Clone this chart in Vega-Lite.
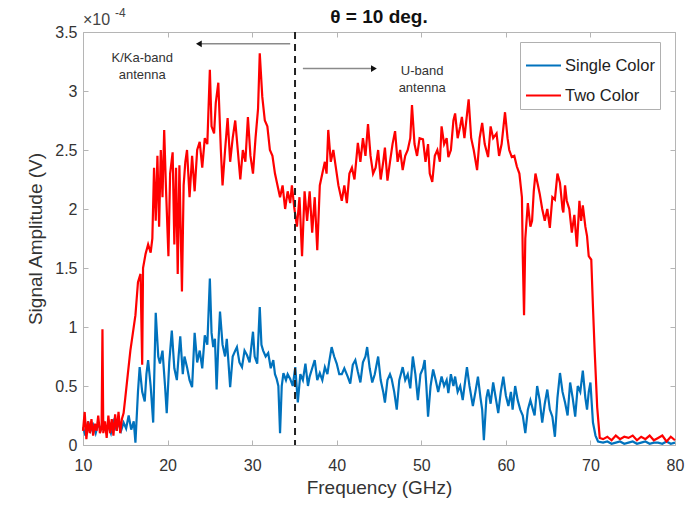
{
  "$schema": "https://vega.github.io/schema/vega-lite/v6.json",
  "width": 592,
  "height": 413,
  "autosize": {"type": "none"},
  "padding": {"left": 83, "top": 32, "right": 20, "bottom": 60},
  "background": "white",
  "title": {"text": "θ = 10 deg.", "fontSize": 19, "fontWeight": "bold", "font": "Liberation Sans", "color": "#111", "offset": -20},
  "config": {"view": {"stroke": null}, "font": "Liberation Sans"},
  "datasets": {
    "spectra": [
      {"series":"Single Color","freq":10.0,"amp":0.15},{"series":"Single Color","freq":10.3,"amp":0.08},{"series":"Single Color","freq":10.6,"amp":0.2},{"series":"Single Color","freq":10.9,"amp":0.12},{"series":"Single Color","freq":11.2,"amp":0.17},{"series":"Single Color","freq":11.5,"amp":0.1},{"series":"Single Color","freq":11.8,"amp":0.18},{"series":"Single Color","freq":12.1,"amp":0.13},{"series":"Single Color","freq":12.4,"amp":0.2},{"series":"Single Color","freq":12.7,"amp":0.12},{"series":"Single Color","freq":13.0,"amp":0.16},{"series":"Single Color","freq":13.3,"amp":0.1},{"series":"Single Color","freq":13.6,"amp":0.2},{"series":"Single Color","freq":13.9,"amp":0.14},{"series":"Single Color","freq":14.2,"amp":0.18},{"series":"Single Color","freq":14.5,"amp":0.12},{"series":"Single Color","freq":14.8,"amp":0.19},{"series":"Single Color","freq":15.1,"amp":0.14},{"series":"Single Color","freq":15.4,"amp":0.25},{"series":"Single Color","freq":15.7,"amp":0.13},{"series":"Single Color","freq":16.0,"amp":0.2},{"series":"Single Color","freq":16.2,"amp":0.02},{"series":"Single Color","freq":16.5,"amp":0.45},{"series":"Single Color","freq":16.7,"amp":0.66},{"series":"Single Color","freq":17.0,"amp":0.45},{"series":"Single Color","freq":17.3,"amp":0.37},{"series":"Single Color","freq":17.5,"amp":0.6},{"series":"Single Color","freq":17.7,"amp":0.72},{"series":"Single Color","freq":18.0,"amp":0.5},{"series":"Single Color","freq":18.3,"amp":0.19},{"series":"Single Color","freq":18.6,"amp":1.12},{"series":"Single Color","freq":18.9,"amp":0.75},{"series":"Single Color","freq":19.1,"amp":0.69},{"series":"Single Color","freq":19.4,"amp":0.8},{"series":"Single Color","freq":19.7,"amp":0.5},{"series":"Single Color","freq":19.9,"amp":0.27},{"series":"Single Color","freq":20.2,"amp":0.7},{"series":"Single Color","freq":20.5,"amp":0.97},{"series":"Single Color","freq":20.8,"amp":0.65},{"series":"Single Color","freq":21.1,"amp":0.55},{"series":"Single Color","freq":21.3,"amp":0.75},{"series":"Single Color","freq":21.5,"amp":0.92},{"series":"Single Color","freq":21.8,"amp":0.6},{"series":"Single Color","freq":22.0,"amp":0.75},{"series":"Single Color","freq":22.3,"amp":0.66},{"series":"Single Color","freq":22.6,"amp":0.55},{"series":"Single Color","freq":22.9,"amp":0.49},{"series":"Single Color","freq":23.2,"amp":0.95},{"series":"Single Color","freq":23.5,"amp":0.7},{"series":"Single Color","freq":23.8,"amp":0.8},{"series":"Single Color","freq":24.1,"amp":0.65},{"series":"Single Color","freq":24.4,"amp":0.93},{"series":"Single Color","freq":24.7,"amp":0.85},{"series":"Single Color","freq":25.0,"amp":1.41},{"series":"Single Color","freq":25.2,"amp":0.95},{"series":"Single Color","freq":25.4,"amp":0.83},{"series":"Single Color","freq":25.6,"amp":0.9},{"series":"Single Color","freq":25.8,"amp":0.47},{"series":"Single Color","freq":26.0,"amp":0.85},{"series":"Single Color","freq":26.2,"amp":1.13},{"series":"Single Color","freq":26.5,"amp":0.85},{"series":"Single Color","freq":26.8,"amp":0.75},{"series":"Single Color","freq":27.0,"amp":0.9},{"series":"Single Color","freq":27.2,"amp":0.7},{"series":"Single Color","freq":27.4,"amp":0.49},{"series":"Single Color","freq":27.7,"amp":0.75},{"series":"Single Color","freq":28.0,"amp":0.8},{"series":"Single Color","freq":28.2,"amp":0.83},{"series":"Single Color","freq":28.5,"amp":0.7},{"series":"Single Color","freq":28.8,"amp":0.66},{"series":"Single Color","freq":29.1,"amp":0.8},{"series":"Single Color","freq":29.4,"amp":0.76},{"series":"Single Color","freq":29.7,"amp":0.7},{"series":"Single Color","freq":30.1,"amp":0.96},{"series":"Single Color","freq":30.3,"amp":0.75},{"series":"Single Color","freq":30.6,"amp":0.69},{"series":"Single Color","freq":30.9,"amp":1.17},{"series":"Single Color","freq":31.1,"amp":0.85},{"series":"Single Color","freq":31.3,"amp":0.8},{"series":"Single Color","freq":31.6,"amp":0.75},{"series":"Single Color","freq":31.9,"amp":0.78},{"series":"Single Color","freq":32.2,"amp":0.65},{"series":"Single Color","freq":32.5,"amp":0.72},{"series":"Single Color","freq":32.7,"amp":0.6},{"series":"Single Color","freq":32.9,"amp":0.56},{"series":"Single Color","freq":33.1,"amp":0.5},{"series":"Single Color","freq":33.3,"amp":0.1},{"series":"Single Color","freq":33.5,"amp":0.5},{"series":"Single Color","freq":33.7,"amp":0.61},{"series":"Single Color","freq":34.0,"amp":0.55},{"series":"Single Color","freq":34.2,"amp":0.6},{"series":"Single Color","freq":34.5,"amp":0.56},{"series":"Single Color","freq":34.8,"amp":0.5},{"series":"Single Color","freq":35.1,"amp":0.66},{"series":"Single Color","freq":35.4,"amp":0.36},{"series":"Single Color","freq":35.7,"amp":0.6},{"series":"Single Color","freq":36.0,"amp":0.55},{"series":"Single Color","freq":36.3,"amp":0.69},{"series":"Single Color","freq":36.6,"amp":0.5},{"series":"Single Color","freq":36.8,"amp":0.58},{"series":"Single Color","freq":37.1,"amp":0.65},{"series":"Single Color","freq":37.4,"amp":0.72},{"series":"Single Color","freq":37.7,"amp":0.55},{"series":"Single Color","freq":38.0,"amp":0.61},{"series":"Single Color","freq":38.3,"amp":0.55},{"series":"Single Color","freq":38.6,"amp":0.66},{"series":"Single Color","freq":38.9,"amp":0.6},{"series":"Single Color","freq":39.1,"amp":0.7},{"series":"Single Color","freq":39.4,"amp":0.83},{"series":"Single Color","freq":39.7,"amp":0.75},{"series":"Single Color","freq":40.0,"amp":0.69},{"series":"Single Color","freq":40.3,"amp":0.6},{"series":"Single Color","freq":40.6,"amp":0.6},{"series":"Single Color","freq":40.9,"amp":0.65},{"series":"Single Color","freq":41.3,"amp":0.58},{"series":"Single Color","freq":41.6,"amp":0.52},{"series":"Single Color","freq":41.9,"amp":0.68},{"series":"Single Color","freq":42.2,"amp":0.72},{"series":"Single Color","freq":42.5,"amp":0.62},{"series":"Single Color","freq":42.8,"amp":0.53},{"series":"Single Color","freq":43.1,"amp":0.7},{"series":"Single Color","freq":43.4,"amp":0.75},{"series":"Single Color","freq":43.6,"amp":0.83},{"series":"Single Color","freq":43.9,"amp":0.65},{"series":"Single Color","freq":44.2,"amp":0.53},{"series":"Single Color","freq":44.5,"amp":0.6},{"series":"Single Color","freq":44.9,"amp":0.75},{"series":"Single Color","freq":45.2,"amp":0.55},{"series":"Single Color","freq":45.5,"amp":0.45},{"series":"Single Color","freq":45.7,"amp":0.36},{"series":"Single Color","freq":46.0,"amp":0.55},{"series":"Single Color","freq":46.3,"amp":0.6},{"series":"Single Color","freq":46.5,"amp":0.56},{"series":"Single Color","freq":46.8,"amp":0.45},{"series":"Single Color","freq":47.1,"amp":0.3},{"series":"Single Color","freq":47.4,"amp":0.55},{"series":"Single Color","freq":47.8,"amp":0.66},{"series":"Single Color","freq":48.1,"amp":0.55},{"series":"Single Color","freq":48.4,"amp":0.6},{"series":"Single Color","freq":48.7,"amp":0.48},{"series":"Single Color","freq":49.0,"amp":0.75},{"series":"Single Color","freq":49.3,"amp":0.6},{"series":"Single Color","freq":49.6,"amp":0.38},{"series":"Single Color","freq":49.9,"amp":0.6},{"series":"Single Color","freq":50.2,"amp":0.65},{"series":"Single Color","freq":50.4,"amp":0.72},{"series":"Single Color","freq":50.6,"amp":0.5},{"series":"Single Color","freq":50.8,"amp":0.24},{"series":"Single Color","freq":51.1,"amp":0.5},{"series":"Single Color","freq":51.4,"amp":0.64},{"series":"Single Color","freq":51.7,"amp":0.55},{"series":"Single Color","freq":52.0,"amp":0.45},{"series":"Single Color","freq":52.4,"amp":0.58},{"series":"Single Color","freq":52.7,"amp":0.5},{"series":"Single Color","freq":53.0,"amp":0.55},{"series":"Single Color","freq":53.2,"amp":0.44},{"series":"Single Color","freq":53.5,"amp":0.6},{"series":"Single Color","freq":53.8,"amp":0.5},{"series":"Single Color","freq":54.0,"amp":0.58},{"series":"Single Color","freq":54.3,"amp":0.45},{"series":"Single Color","freq":54.6,"amp":0.5},{"series":"Single Color","freq":54.9,"amp":0.38},{"series":"Single Color","freq":55.2,"amp":0.55},{"series":"Single Color","freq":55.4,"amp":0.66},{"series":"Single Color","freq":55.7,"amp":0.5},{"series":"Single Color","freq":56.1,"amp":0.33},{"series":"Single Color","freq":56.4,"amp":0.45},{"series":"Single Color","freq":56.7,"amp":0.58},{"series":"Single Color","freq":57.0,"amp":0.4},{"series":"Single Color","freq":57.2,"amp":0.3},{"series":"Single Color","freq":57.4,"amp":0.04},{"series":"Single Color","freq":57.7,"amp":0.4},{"series":"Single Color","freq":57.9,"amp":0.47},{"series":"Single Color","freq":58.2,"amp":0.35},{"series":"Single Color","freq":58.5,"amp":0.53},{"series":"Single Color","freq":58.8,"amp":0.4},{"series":"Single Color","freq":59.1,"amp":0.27},{"series":"Single Color","freq":59.4,"amp":0.45},{"series":"Single Color","freq":59.7,"amp":0.58},{"series":"Single Color","freq":60.0,"amp":0.42},{"series":"Single Color","freq":60.3,"amp":0.33},{"series":"Single Color","freq":60.6,"amp":0.45},{"series":"Single Color","freq":60.8,"amp":0.3},{"series":"Single Color","freq":61.1,"amp":0.5},{"series":"Single Color","freq":61.4,"amp":0.38},{"series":"Single Color","freq":61.7,"amp":0.3},{"series":"Single Color","freq":62.0,"amp":0.25},{"series":"Single Color","freq":62.3,"amp":0.1},{"series":"Single Color","freq":62.6,"amp":0.3},{"series":"Single Color","freq":62.9,"amp":0.38},{"series":"Single Color","freq":63.2,"amp":0.3},{"series":"Single Color","freq":63.4,"amp":0.25},{"series":"Single Color","freq":63.7,"amp":0.5},{"series":"Single Color","freq":64.0,"amp":0.38},{"series":"Single Color","freq":64.3,"amp":0.19},{"series":"Single Color","freq":64.6,"amp":0.35},{"series":"Single Color","freq":64.9,"amp":0.47},{"series":"Single Color","freq":65.2,"amp":0.3},{"series":"Single Color","freq":65.5,"amp":0.24},{"series":"Single Color","freq":65.8,"amp":0.07},{"series":"Single Color","freq":66.1,"amp":0.4},{"series":"Single Color","freq":66.4,"amp":0.61},{"series":"Single Color","freq":66.7,"amp":0.45},{"series":"Single Color","freq":67.0,"amp":0.36},{"series":"Single Color","freq":67.3,"amp":0.25},{"series":"Single Color","freq":67.6,"amp":0.53},{"series":"Single Color","freq":67.9,"amp":0.4},{"series":"Single Color","freq":68.2,"amp":0.24},{"series":"Single Color","freq":68.5,"amp":0.5},{"series":"Single Color","freq":68.8,"amp":0.45},{"series":"Single Color","freq":69.1,"amp":0.63},{"series":"Single Color","freq":69.4,"amp":0.4},{"series":"Single Color","freq":69.6,"amp":0.3},{"series":"Single Color","freq":69.8,"amp":0.45},{"series":"Single Color","freq":70.0,"amp":0.53},{"series":"Single Color","freq":70.3,"amp":0.19},{"series":"Single Color","freq":70.6,"amp":0.08},{"series":"Single Color","freq":70.9,"amp":0.03},{"series":"Single Color","freq":71.5,"amp":0.02},{"series":"Single Color","freq":72.0,"amp":0.03},{"series":"Single Color","freq":72.5,"amp":0.01},{"series":"Single Color","freq":73.0,"amp":0.02},{"series":"Single Color","freq":73.5,"amp":0.03},{"series":"Single Color","freq":74.0,"amp":0.01},{"series":"Single Color","freq":74.5,"amp":0.02},{"series":"Single Color","freq":75.0,"amp":0.03},{"series":"Single Color","freq":75.5,"amp":0.01},{"series":"Single Color","freq":76.0,"amp":0.02},{"series":"Single Color","freq":76.5,"amp":0.03},{"series":"Single Color","freq":77.0,"amp":0.01},{"series":"Single Color","freq":77.5,"amp":0.02},{"series":"Single Color","freq":78.0,"amp":0.02},{"series":"Single Color","freq":78.5,"amp":0.01},{"series":"Single Color","freq":79.0,"amp":0.03},{"series":"Single Color","freq":79.5,"amp":0.01},{"series":"Single Color","freq":80.0,"amp":0.02},
      {"series":"Two Color","freq":10.0,"amp":0.12},{"series":"Two Color","freq":10.2,"amp":0.28},{"series":"Two Color","freq":10.4,"amp":0.05},{"series":"Two Color","freq":10.6,"amp":0.2},{"series":"Two Color","freq":10.8,"amp":0.1},{"series":"Two Color","freq":11.0,"amp":0.22},{"series":"Two Color","freq":11.2,"amp":0.08},{"series":"Two Color","freq":11.4,"amp":0.18},{"series":"Two Color","freq":11.6,"amp":0.12},{"series":"Two Color","freq":11.8,"amp":0.25},{"series":"Two Color","freq":12.0,"amp":0.1},{"series":"Two Color","freq":12.2,"amp":0.15},{"series":"Two Color","freq":12.3,"amp":0.98},{"series":"Two Color","freq":12.4,"amp":0.1},{"series":"Two Color","freq":12.6,"amp":0.2},{"series":"Two Color","freq":12.8,"amp":0.06},{"series":"Two Color","freq":13.0,"amp":0.25},{"series":"Two Color","freq":13.2,"amp":0.1},{"series":"Two Color","freq":13.4,"amp":0.22},{"series":"Two Color","freq":13.6,"amp":0.08},{"series":"Two Color","freq":13.8,"amp":0.26},{"series":"Two Color","freq":14.0,"amp":0.12},{"series":"Two Color","freq":14.2,"amp":0.28},{"series":"Two Color","freq":14.4,"amp":0.1},{"series":"Two Color","freq":14.6,"amp":0.22},{"series":"Two Color","freq":14.8,"amp":0.27},{"series":"Two Color","freq":15.0,"amp":0.4},{"series":"Two Color","freq":15.3,"amp":0.6},{"series":"Two Color","freq":15.6,"amp":0.8},{"series":"Two Color","freq":15.9,"amp":0.95},{"series":"Two Color","freq":16.2,"amp":1.1},{"series":"Two Color","freq":16.5,"amp":1.38},{"series":"Two Color","freq":16.8,"amp":1.45},{"series":"Two Color","freq":17.0,"amp":0.68},{"series":"Two Color","freq":17.1,"amp":1.5},{"series":"Two Color","freq":17.4,"amp":1.62},{"series":"Two Color","freq":17.7,"amp":1.7},{"series":"Two Color","freq":18.0,"amp":1.63},{"series":"Two Color","freq":18.2,"amp":1.75},{"series":"Two Color","freq":18.4,"amp":2.35},{"series":"Two Color","freq":18.6,"amp":1.9},{"series":"Two Color","freq":18.8,"amp":2.45},{"series":"Two Color","freq":19.0,"amp":1.85},{"series":"Two Color","freq":19.2,"amp":2.5},{"series":"Two Color","freq":19.4,"amp":2.1},{"series":"Two Color","freq":19.6,"amp":2.67},{"series":"Two Color","freq":19.8,"amp":2.2},{"series":"Two Color","freq":20.1,"amp":1.6},{"series":"Two Color","freq":20.3,"amp":2.3},{"series":"Two Color","freq":20.6,"amp":2.48},{"series":"Two Color","freq":20.8,"amp":1.7},{"series":"Two Color","freq":21.0,"amp":2.35},{"series":"Two Color","freq":21.2,"amp":1.45},{"series":"Two Color","freq":21.4,"amp":2.37},{"series":"Two Color","freq":21.7,"amp":1.3},{"series":"Two Color","freq":21.9,"amp":2.2},{"series":"Two Color","freq":22.1,"amp":2.4},{"series":"Two Color","freq":22.3,"amp":2.5},{"series":"Two Color","freq":22.6,"amp":2.1},{"series":"Two Color","freq":22.9,"amp":2.45},{"series":"Two Color","freq":23.2,"amp":2.15},{"series":"Two Color","freq":23.5,"amp":2.5},{"series":"Two Color","freq":23.8,"amp":2.57},{"series":"Two Color","freq":24.1,"amp":2.35},{"series":"Two Color","freq":24.4,"amp":2.6},{"series":"Two Color","freq":24.7,"amp":2.55},{"series":"Two Color","freq":25.0,"amp":3.18},{"series":"Two Color","freq":25.2,"amp":2.7},{"series":"Two Color","freq":25.5,"amp":2.64},{"series":"Two Color","freq":25.7,"amp":2.9},{"series":"Two Color","freq":26.0,"amp":3.07},{"series":"Two Color","freq":26.3,"amp":2.5},{"series":"Two Color","freq":26.5,"amp":2.2},{"series":"Two Color","freq":26.8,"amp":2.5},{"series":"Two Color","freq":27.1,"amp":2.77},{"series":"Two Color","freq":27.4,"amp":2.4},{"series":"Two Color","freq":27.7,"amp":2.6},{"series":"Two Color","freq":28.0,"amp":2.75},{"series":"Two Color","freq":28.3,"amp":2.5},{"series":"Two Color","freq":28.6,"amp":2.25},{"series":"Two Color","freq":28.9,"amp":2.5},{"series":"Two Color","freq":29.2,"amp":2.4},{"series":"Two Color","freq":29.5,"amp":2.78},{"series":"Two Color","freq":29.8,"amp":2.45},{"series":"Two Color","freq":30.1,"amp":2.3},{"series":"Two Color","freq":30.4,"amp":2.6},{"series":"Two Color","freq":30.7,"amp":2.85},{"series":"Two Color","freq":30.9,"amp":3.32},{"series":"Two Color","freq":31.2,"amp":2.95},{"series":"Two Color","freq":31.5,"amp":2.75},{"series":"Two Color","freq":31.8,"amp":2.7},{"series":"Two Color","freq":32.1,"amp":2.5},{"series":"Two Color","freq":32.4,"amp":2.45},{"series":"Two Color","freq":32.7,"amp":2.3},{"series":"Two Color","freq":33.0,"amp":2.2},{"series":"Two Color","freq":33.3,"amp":2.1},{"series":"Two Color","freq":33.6,"amp":2.2},{"series":"Two Color","freq":33.9,"amp":2.0},{"series":"Two Color","freq":34.2,"amp":2.15},{"series":"Two Color","freq":34.5,"amp":2.05},{"series":"Two Color","freq":34.7,"amp":2.2},{"series":"Two Color","freq":35.0,"amp":2.0},{"series":"Two Color","freq":35.3,"amp":1.85},{"series":"Two Color","freq":35.6,"amp":2.1},{"series":"Two Color","freq":35.9,"amp":1.6},{"series":"Two Color","freq":36.2,"amp":2.15},{"series":"Two Color","freq":36.5,"amp":1.9},{"series":"Two Color","freq":36.8,"amp":2.15},{"series":"Two Color","freq":37.1,"amp":1.8},{"series":"Two Color","freq":37.4,"amp":2.1},{"series":"Two Color","freq":37.7,"amp":1.65},{"series":"Two Color","freq":38.0,"amp":2.2},{"series":"Two Color","freq":38.3,"amp":2.3},{"series":"Two Color","freq":38.6,"amp":2.4},{"series":"Two Color","freq":38.8,"amp":2.3},{"series":"Two Color","freq":39.0,"amp":2.67},{"series":"Two Color","freq":39.3,"amp":2.4},{"series":"Two Color","freq":39.6,"amp":2.5},{"series":"Two Color","freq":39.9,"amp":2.35},{"series":"Two Color","freq":40.2,"amp":2.2},{"series":"Two Color","freq":40.6,"amp":2.07},{"series":"Two Color","freq":40.9,"amp":2.2},{"series":"Two Color","freq":41.2,"amp":2.05},{"series":"Two Color","freq":41.5,"amp":2.3},{"series":"Two Color","freq":41.8,"amp":2.35},{"series":"Two Color","freq":42.1,"amp":2.25},{"series":"Two Color","freq":42.5,"amp":2.56},{"series":"Two Color","freq":42.8,"amp":2.4},{"series":"Two Color","freq":43.1,"amp":2.6},{"series":"Two Color","freq":43.4,"amp":2.45},{"series":"Two Color","freq":43.7,"amp":2.72},{"series":"Two Color","freq":44.0,"amp":2.45},{"series":"Two Color","freq":44.3,"amp":2.3},{"series":"Two Color","freq":44.6,"amp":2.35},{"series":"Two Color","freq":44.9,"amp":2.5},{"series":"Two Color","freq":45.2,"amp":2.25},{"series":"Two Color","freq":45.5,"amp":2.4},{"series":"Two Color","freq":45.7,"amp":2.52},{"series":"Two Color","freq":46.0,"amp":2.24},{"series":"Two Color","freq":46.3,"amp":2.4},{"series":"Two Color","freq":46.6,"amp":2.55},{"series":"Two Color","freq":46.9,"amp":2.66},{"series":"Two Color","freq":47.2,"amp":2.4},{"series":"Two Color","freq":47.5,"amp":2.5},{"series":"Two Color","freq":47.8,"amp":2.33},{"series":"Two Color","freq":48.1,"amp":2.45},{"series":"Two Color","freq":48.4,"amp":2.5},{"series":"Two Color","freq":48.7,"amp":2.6},{"series":"Two Color","freq":48.9,"amp":2.88},{"series":"Two Color","freq":49.2,"amp":2.55},{"series":"Two Color","freq":49.5,"amp":2.45},{"series":"Two Color","freq":49.8,"amp":2.6},{"series":"Two Color","freq":50.2,"amp":2.59},{"series":"Two Color","freq":50.5,"amp":2.4},{"series":"Two Color","freq":50.8,"amp":2.55},{"series":"Two Color","freq":51.0,"amp":2.3},{"series":"Two Color","freq":51.3,"amp":2.23},{"series":"Two Color","freq":51.6,"amp":2.45},{"series":"Two Color","freq":51.9,"amp":2.5},{"series":"Two Color","freq":52.2,"amp":2.4},{"series":"Two Color","freq":52.4,"amp":2.7},{"series":"Two Color","freq":52.7,"amp":2.55},{"series":"Two Color","freq":53.0,"amp":2.6},{"series":"Two Color","freq":53.2,"amp":2.44},{"series":"Two Color","freq":53.5,"amp":2.5},{"series":"Two Color","freq":53.8,"amp":2.75},{"series":"Two Color","freq":54.0,"amp":2.81},{"series":"Two Color","freq":54.3,"amp":2.6},{"series":"Two Color","freq":54.6,"amp":2.7},{"series":"Two Color","freq":54.8,"amp":2.78},{"series":"Two Color","freq":55.1,"amp":2.6},{"series":"Two Color","freq":55.4,"amp":2.8},{"series":"Two Color","freq":55.6,"amp":2.93},{"series":"Two Color","freq":55.9,"amp":2.6},{"series":"Two Color","freq":56.2,"amp":2.5},{"series":"Two Color","freq":56.6,"amp":2.33},{"series":"Two Color","freq":56.9,"amp":2.6},{"series":"Two Color","freq":57.2,"amp":2.73},{"series":"Two Color","freq":57.5,"amp":2.55},{"series":"Two Color","freq":57.9,"amp":2.44},{"series":"Two Color","freq":58.2,"amp":2.7},{"series":"Two Color","freq":58.5,"amp":2.6},{"series":"Two Color","freq":58.9,"amp":2.64},{"series":"Two Color","freq":59.2,"amp":2.45},{"series":"Two Color","freq":59.5,"amp":2.55},{"series":"Two Color","freq":59.9,"amp":2.82},{"series":"Two Color","freq":60.2,"amp":2.6},{"series":"Two Color","freq":60.4,"amp":2.5},{"series":"Two Color","freq":60.7,"amp":2.44},{"series":"Two Color","freq":61.0,"amp":2.45},{"series":"Two Color","freq":61.3,"amp":2.36},{"series":"Two Color","freq":61.6,"amp":2.3},{"series":"Two Color","freq":61.9,"amp":2.1},{"series":"Two Color","freq":62.0,"amp":1.6},{"series":"Two Color","freq":62.15,"amp":1.1},{"series":"Two Color","freq":62.3,"amp":1.75},{"series":"Two Color","freq":62.6,"amp":2.05},{"series":"Two Color","freq":62.9,"amp":1.85},{"series":"Two Color","freq":63.1,"amp":1.9},{"series":"Two Color","freq":63.3,"amp":2.15},{"series":"Two Color","freq":63.5,"amp":2.3},{"series":"Two Color","freq":63.8,"amp":2.2},{"series":"Two Color","freq":64.0,"amp":2.13},{"series":"Two Color","freq":64.3,"amp":2.0},{"series":"Two Color","freq":64.6,"amp":1.9},{"series":"Two Color","freq":64.9,"amp":2.0},{"series":"Two Color","freq":65.2,"amp":1.84},{"series":"Two Color","freq":65.5,"amp":2.1},{"series":"Two Color","freq":65.8,"amp":2.08},{"series":"Two Color","freq":66.1,"amp":2.3},{"series":"Two Color","freq":66.4,"amp":2.22},{"series":"Two Color","freq":66.7,"amp":2.0},{"series":"Two Color","freq":66.8,"amp":1.97},{"series":"Two Color","freq":67.0,"amp":2.2},{"series":"Two Color","freq":67.2,"amp":2.07},{"series":"Two Color","freq":67.5,"amp":2.0},{"series":"Two Color","freq":67.8,"amp":1.8},{"series":"Two Color","freq":68.1,"amp":1.95},{"series":"Two Color","freq":68.4,"amp":1.68},{"series":"Two Color","freq":68.7,"amp":2.07},{"series":"Two Color","freq":68.9,"amp":1.9},{"series":"Two Color","freq":69.1,"amp":2.03},{"series":"Two Color","freq":69.4,"amp":1.85},{"series":"Two Color","freq":69.6,"amp":1.77},{"series":"Two Color","freq":69.8,"amp":1.6},{"series":"Two Color","freq":70.1,"amp":1.57},{"series":"Two Color","freq":70.3,"amp":1.17},{"series":"Two Color","freq":70.5,"amp":0.8},{"series":"Two Color","freq":70.8,"amp":0.32},{"series":"Two Color","freq":71.1,"amp":0.06},{"series":"Two Color","freq":71.5,"amp":0.05},{"series":"Two Color","freq":72.0,"amp":0.07},{"series":"Two Color","freq":72.5,"amp":0.04},{"series":"Two Color","freq":73.0,"amp":0.08},{"series":"Two Color","freq":73.5,"amp":0.05},{"series":"Two Color","freq":74.0,"amp":0.07},{"series":"Two Color","freq":74.5,"amp":0.06},{"series":"Two Color","freq":75.0,"amp":0.08},{"series":"Two Color","freq":75.5,"amp":0.04},{"series":"Two Color","freq":76.0,"amp":0.07},{"series":"Two Color","freq":76.5,"amp":0.05},{"series":"Two Color","freq":77.0,"amp":0.08},{"series":"Two Color","freq":77.5,"amp":0.04},{"series":"Two Color","freq":78.0,"amp":0.06},{"series":"Two Color","freq":78.5,"amp":0.08},{"series":"Two Color","freq":79.0,"amp":0.03},{"series":"Two Color","freq":79.5,"amp":0.07},{"series":"Two Color","freq":80.0,"amp":0.04}
    ],
    "arrows": [
      {"band": "K/Ka-band", "from": 34.5, "to": 23.7, "amp": 3.4},
      {"band": "U-band", "from": 36.0, "to": 44.4, "amp": 3.19}
    ],
    "labels": [
      {"label": "K/Ka-band\nantenna", "freq": 17.0, "amp": 3.28},
      {"label": "U-band\nantenna", "freq": 50.1, "amp": 3.17}
    ]
  },
  "layer": [
    {
      "data": {"name": "spectra"},
      "mark": {"type": "line", "strokeWidth": 2.2},
      "encoding": {
        "x": {"field": "freq", "type": "quantitative", "scale": {"domain": [10, 80], "nice": false},
          "axis": {"orient": "bottom", "values": [10, 20, 30, 40, 50, 60, 70, 80], "tickSize": -5, "labelPadding": 17, "labelFontSize": 16, "labelColor": "#333", "labelFlush": false, "labelOverlap": false, "grid": false, "domainColor": "#b5b5b5", "tickColor": "#b5b5b5", "title": "Frequency (GHz)", "titleFontSize": 19, "titleFontWeight": "normal", "titleColor": "#333", "titlePadding": 5}},
        "y": {"field": "amp", "type": "quantitative", "scale": {"domain": [0, 3.5], "nice": false},
          "axis": {"orient": "left", "values": [0, 0.5, 1, 1.5, 2, 2.5, 3, 3.5], "format": ".1~f", "tickSize": -5, "labelPadding": 11, "labelFontSize": 16, "labelColor": "#333", "labelFlush": false, "labelOverlap": false, "grid": false, "domainColor": "#b5b5b5", "tickColor": "#b5b5b5", "title": "Signal Amplitude (V)", "titleFontSize": 19, "titleFontWeight": "normal", "titleColor": "#333", "titlePadding": 9}},
        "color": {"field": "series", "type": "nominal",
          "scale": {"domain": ["Single Color", "Two Color"], "range": ["#0072BD", "#FF0000"]},
          "legend": {"orient": "none", "legendX": 437, "legendY": 10, "title": null, "symbolType": "stroke", "symbolStrokeWidth": 2, "symbolSize": 1225, "labelFontSize": 16.5, "labelColor": "#222", "labelOffset": 3, "strokeColor": "#b0b0b0", "fillColor": "white", "padding": 5, "rowPadding": 3}}
      }
    },
    {
      "data": {"values": [{"freq": 35.07}]},
      "mark": {"type": "rule", "strokeDash": [7, 5], "strokeWidth": 2, "color": "#222"},
      "encoding": {"x": {"field": "freq", "type": "quantitative", "scale": {"domain": [10, 80], "nice": false}, "axis": null}}
    },
    {
      "data": {"name": "arrows"},
      "mark": {"type": "rule", "strokeWidth": 1.5, "color": "#8a8a8a"},
      "encoding": {
        "x": {"field": "from", "type": "quantitative", "scale": {"domain": [10, 80], "nice": false}, "axis": null},
        "x2": {"field": "to"},
        "y": {"field": "amp", "type": "quantitative", "scale": {"domain": [0, 3.5], "nice": false}, "axis": null}
      }
    },
    {
      "data": {"name": "arrows"},
      "transform": [{"filter": "datum.band === 'K/Ka-band'"}],
      "mark": {"type": "point", "shape": "triangle-left", "filled": true, "color": "#111", "size": 45, "opacity": 1},
      "encoding": {
        "x": {"field": "to", "type": "quantitative", "scale": {"domain": [10, 80], "nice": false}, "axis": null},
        "y": {"field": "amp", "type": "quantitative", "scale": {"domain": [0, 3.5], "nice": false}, "axis": null}
      }
    },
    {
      "data": {"name": "arrows"},
      "transform": [{"filter": "datum.band === 'U-band'"}],
      "mark": {"type": "point", "shape": "triangle-right", "filled": true, "color": "#111", "size": 45, "opacity": 1},
      "encoding": {
        "x": {"field": "to", "type": "quantitative", "scale": {"domain": [10, 80], "nice": false},
          "axis": {"orient": "top", "values": [10, 20, 30, 40, 50, 60, 70, 80], "labels": false, "tickSize": -5, "grid": false, "domainColor": "#b5b5b5", "tickColor": "#b5b5b5", "title": null}},
        "y": {"field": "amp", "type": "quantitative", "scale": {"domain": [0, 3.5], "nice": false},
          "axis": {"orient": "right", "values": [0, 0.5, 1, 1.5, 2, 2.5, 3, 3.5], "labels": false, "tickSize": -5, "grid": false, "domainColor": "#b5b5b5", "tickColor": "#b5b5b5", "title": null}}
      }
    },
    {
      "data": {"name": "labels"},
      "mark": {"type": "text", "align": "center", "baseline": "middle", "fontSize": 13, "lineHeight": 17, "lineBreak": "\n", "color": "#333"},
      "encoding": {
        "x": {"field": "freq", "type": "quantitative", "scale": {"domain": [10, 80], "nice": false}, "axis": null},
        "y": {"field": "amp", "type": "quantitative", "scale": {"domain": [0, 3.5], "nice": false}, "axis": null},
        "text": {"field": "label"}
      }
    },
    {
      "data": {"values": [{"freq": 10, "amp": 3.5, "base": "×10", "exponent": "-4"}]},
      "mark": {"type": "text", "align": "left", "baseline": "alphabetic", "dy": -7, "fontSize": 16, "color": "#444"},
      "encoding": {
        "x": {"field": "freq", "type": "quantitative", "scale": {"domain": [10, 80], "nice": false}, "axis": null},
        "y": {"field": "amp", "type": "quantitative", "scale": {"domain": [0, 3.5], "nice": false}, "axis": null},
        "text": {"field": "base"}
      }
    },
    {
      "data": {"values": [{"freq": 10, "amp": 3.5, "base": "×10", "exponent": "-4"}]},
      "mark": {"type": "text", "align": "left", "baseline": "alphabetic", "dx": 32, "dy": -15, "fontSize": 12, "color": "#444"},
      "encoding": {
        "x": {"field": "freq", "type": "quantitative", "scale": {"domain": [10, 80], "nice": false}, "axis": null},
        "y": {"field": "amp", "type": "quantitative", "scale": {"domain": [0, 3.5], "nice": false}, "axis": null},
        "text": {"field": "exponent"}
      }
    }
  ]
}
